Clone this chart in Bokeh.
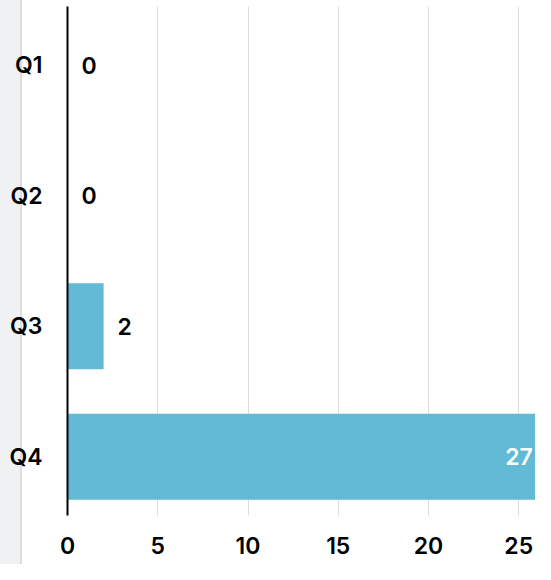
from bokeh.plotting import figure
from bokeh.models import ColumnDataSource, FactorRange, Range1d, SingleIntervalTicker
from bokeh.core.properties import value
from bokeh.embed import file_html
from bokeh.resources import INLINE

quarters = ["Q1", "Q2", "Q3", "Q4"]
counts = [0, 0, 2, 27]

FONT = "'Inter SemiBold', 'Inter Semi Bold', Inter"
FONT_SIZE = "23px"
BAR = "#62bad5"

W, H = 535, 564
ZERO_PX = 67
PX_PER_UNIT = 18.05

inside = [c >= 20 for c in counts]
src = ColumnDataSource(dict(
    q=quarters,
    v=counts,
    lbl=[str(c) for c in counts],
    off=[-22 if i else 14 for i in inside],
    align=["right" if i else "left" for i in inside],
    col=["white" if i else "black" for i in inside],
))

p = figure(
    width=W, height=H,
    y_range=FactorRange(factors=list(reversed(quarters)), range_padding=-0.05, range_padding_units="absolute"),
    x_range=Range1d(0, (W - ZERO_PX) / PX_PER_UNIT),
    output_backend="svg", toolbar_location=None,
    min_border_left=ZERO_PX, min_border_right=0, min_border_top=6, min_border_bottom=49,
)
p.outline_line_color = None
p.background_fill_color = None
p.border_fill_color = None
# grey side strip of the surrounding page, behind the transparent canvas
p.styles = {"background": "linear-gradient(to right, #f0f1f3 0px, #f0f1f3 20px, #dcdde0 20px, #dcdde0 22px, #ffffff 22px)"}

p.hbar(y="q", right="v", left=0, height=0.66, source=src, color=BAR, line_color=None)
p.text(x="v", y="q", text="lbl", x_offset="off", text_align="align", text_baseline="middle",
       text_color="col", text_font=value(FONT), text_font_style="normal", text_font_size=FONT_SIZE,
       source=src)

p.ygrid.grid_line_color = None
p.xgrid.grid_line_color = "#dcdcdc"
p.xgrid.grid_line_width = 1
p.xaxis.ticker = SingleIntervalTicker(interval=5)

for ax in (p.xaxis, p.yaxis):
    ax.major_tick_line_color = None
    ax.minor_tick_line_color = None
    ax.major_tick_in = 0
    ax.major_tick_out = 0
    ax.minor_tick_out = 0
    ax.major_label_text_font = FONT
    ax.major_label_text_font_style = "normal"
    ax.major_label_text_font_size = FONT_SIZE
    ax.major_label_text_color = "black"

p.xaxis.axis_line_color = None
p.xaxis.major_label_standoff = 21
p.yaxis.axis_line_color = "black"
p.yaxis.axis_line_width = 2
p.yaxis.major_label_standoff = 25

open("out.html", "w").write(file_html(p, INLINE))
